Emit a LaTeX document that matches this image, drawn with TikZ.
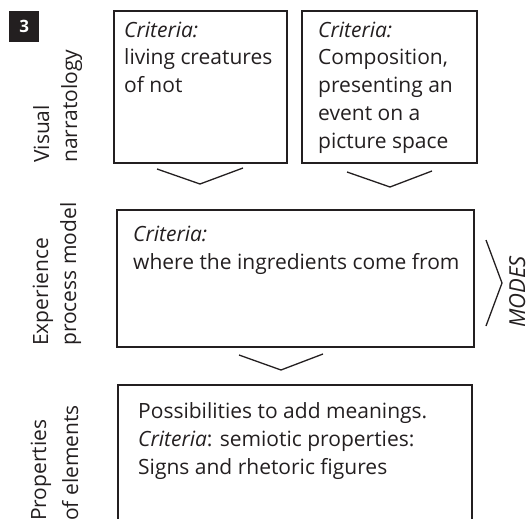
\documentclass[tikz,border=0pt]{standalone}
\usepackage{fontspec}
\setmainfont{Open Sans}
\definecolor{inkc}{HTML}{231F20}
\begin{document}
\begin{tikzpicture}[x=1pt,y=-1pt,
  ink/.style={draw=inkc, line width=1.3pt},
  boxst/.style={ink, rectangle, inner sep=0pt, outer sep=0pt, anchor=north west},
  body/.style={text=inkc, inner sep=0pt, anchor=base west, align=left,
    font=\fontsize{21}{27.75}\selectfont},
  side/.style={text=inkc, inner sep=0pt, anchor=base west, rotate=90,
    font=\fontsize{21}{27.75}\selectfont},
  chev/.style={ink, line join=miter}]
\useasboundingbox (0,0) rectangle (528,519);
\clip (0,0) rectangle (528,519);

% badge
\node[fill=inkc, minimum width=30pt, minimum height=31pt, inner sep=0pt, anchor=north west] (badge) at (9,11) {};
\node[text=white, font=\fontsize{17}{17}\bfseries\selectfont, inner sep=0pt] (badgenum) at (badge.center) {3};

% boxes
\node[boxst, minimum width=173pt, minimum height=152pt] (b1) at (114,11) {};
\node[boxst, minimum width=175pt, minimum height=152pt] (b2) at (302,11) {};
\node[boxst, minimum width=357pt, minimum height=137pt] (b3) at (117,210) {};
\node[boxst, minimum width=354pt, minimum height=160pt] (b4) at (118,385) {};

% texts (anchored at the baseline of the last line)
\node[body] (t1) at (124,92.5) {\textit{Criteria:}\\living creatures\\of not};
\node[body] (t2) at (318,148) {\textit{Criteria:}\\Composition,\\presenting an\\event on a\\picture space};
\node[body] (t3) at (133,269) {\textit{Criteria:}\\where the ingredients come from};
\node[body] (t4) at (138,474) {Possibilities to add meanings.\\\textit{Criteria}: semiotic properties:\\Signs and rhetoric figures};

% side labels
\node[side] (l1a) at (49,163) {Visual};
\node[side] (l1b) at (77,163) {narratology};
\node[side] (l2a) at (48,346) {Experience};
\node[side] (l2b) at (76,346) {process model};
\node[side] (l3a) at (46,521) {Properties};
\node[side] (l3b) at (78,521) {of elements};

% chevrons
\coordinate (c1l) at (157,169); \coordinate (c1t) at (200,184); \coordinate (c1r) at (243,168);
\coordinate (c2l) at (347,172); \coordinate (c2t) at (390,187); \coordinate (c2r) at (432,171);
\coordinate (c3l) at (239,355); \coordinate (c3t) at (281,370); \coordinate (c3r) at (323,354);
\coordinate (mt) at (486,240); \coordinate (mm) at (502,283); \coordinate (mb) at (486,326);
\draw[chev] (c1l) -- (c1t) -- (c1r);
\draw[chev] (c2l) -- (c2t) -- (c2r);
\draw[chev] (c3l) -- (c3t) -- (c3r);
\draw[chev] (mt) -- (mm) -- (mb);

\node[side, font=\fontsize{22}{22}\itshape\selectfont] (modes) at (525,328) {MODES};
\end{tikzpicture}
\end{document}
